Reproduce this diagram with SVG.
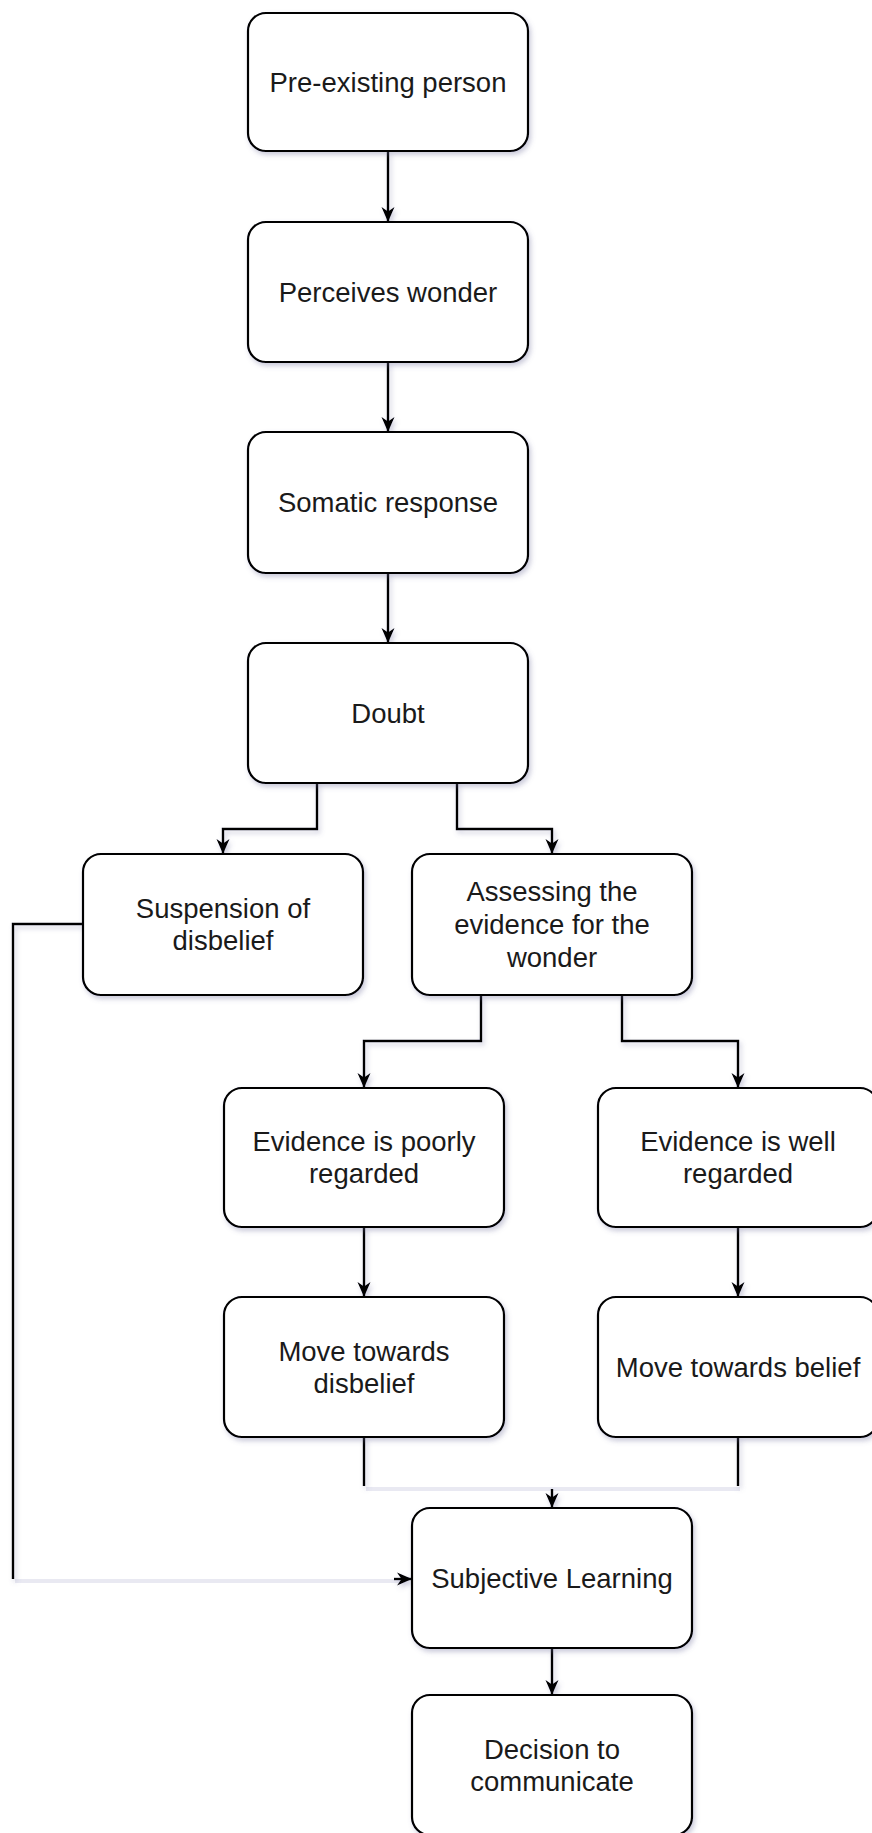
<svg xmlns="http://www.w3.org/2000/svg" width="872" height="1833" viewBox="0 0 872 1833">
<defs>
<filter id="sh" filterUnits="userSpaceOnUse" x="0" y="0" width="872" height="1833">
<feDropShadow dx="2" dy="3" stdDeviation="2.5" flood-color="#6b6b99" flood-opacity="0.35"/>
</filter>
<marker id="arr" viewBox="0 0 16 16" markerWidth="16" markerHeight="16" refX="15" refY="8" orient="auto" markerUnits="userSpaceOnUse">
<path d="M0,1.5 L15,8 L0,14.5 L4.5,8 Z" fill="#000"/>
</marker>
<style>
.box{fill:#fff;stroke:#000;stroke-width:2.2;filter:url(#sh)}
.t{font-family:"Liberation Sans",Arial,sans-serif;font-size:27.5px;fill:#1a1a1a;text-anchor:middle}
.c{fill:none;stroke:#000;stroke-width:2.4;filter:url(#sh)}
.f{fill:none;stroke:#e9e9f2;stroke-width:4}
</style>
</defs>
<g id="connectors">
<path class="c" d="M388,151 V222" marker-end="url(#arr)"/>
<path class="c" d="M388,362 V432" marker-end="url(#arr)"/>
<path class="c" d="M388,573 V643" marker-end="url(#arr)"/>
<path class="c" d="M317,783 V829 H223 V854" marker-end="url(#arr)"/>
<path class="c" d="M457,783 V829 H552 V854" marker-end="url(#arr)"/>
<path class="c" d="M481,995 V1041 H364 V1088" marker-end="url(#arr)"/>
<path class="c" d="M622,995 V1041 H738 V1088" marker-end="url(#arr)"/>
<path class="c" d="M364,1227 V1297" marker-end="url(#arr)"/>
<path class="c" d="M738,1227 V1297" marker-end="url(#arr)"/>
<path class="f" d="M366,1489 H740"/>
<path class="c" d="M364,1437 V1486"/>
<path class="c" d="M738,1437 V1486"/>
<path class="c" d="M552,1489 V1508" marker-end="url(#arr)"/>
<path class="f" d="M15,1581 H400"/>
<path class="c" d="M83,924 H13 V1579"/>
<path class="c" d="M394,1579 H412" marker-end="url(#arr)"/>
<path class="c" d="M552,1648 V1695" marker-end="url(#arr)"/>
</g>
<g id="n1"><rect class="box" x="248" y="13" width="280" height="138" rx="18"/><text class="t" x="388" y="92">Pre-existing person</text></g>
<g id="n2"><rect class="box" x="248" y="222" width="280" height="140" rx="18"/><text class="t" x="388" y="302">Perceives wonder</text></g>
<g id="n3"><rect class="box" x="248" y="432" width="280" height="141" rx="18"/><text class="t" x="388" y="512">Somatic response</text></g>
<g id="n4"><rect class="box" x="248" y="643" width="280" height="140" rx="18"/><text class="t" x="388" y="723">Doubt</text></g>
<g id="n5"><rect class="box" x="83" y="854" width="280" height="141" rx="18"/><text class="t" x="223" y="918">Suspension of</text><text class="t" x="223" y="950">disbelief</text></g>
<g id="n6"><rect class="box" x="412" y="854" width="280" height="141" rx="18"/><text class="t" x="552" y="901">Assessing the</text><text class="t" x="552" y="934">evidence for the</text><text class="t" x="552" y="967">wonder</text></g>
<g id="n7"><rect class="box" x="224" y="1088" width="280" height="139" rx="18"/><text class="t" x="364" y="1151">Evidence is poorly</text><text class="t" x="364" y="1183">regarded</text></g>
<g id="n8"><rect class="box" x="598" y="1088" width="280" height="139" rx="18"/><text class="t" x="738" y="1151">Evidence is well</text><text class="t" x="738" y="1183">regarded</text></g>
<g id="n9"><rect class="box" x="224" y="1297" width="280" height="140" rx="18"/><text class="t" x="364" y="1361">Move towards</text><text class="t" x="364" y="1393">disbelief</text></g>
<g id="n10"><rect class="box" x="598" y="1297" width="280" height="140" rx="18"/><text class="t" x="738" y="1377">Move towards belief</text></g>
<g id="n11"><rect class="box" x="412" y="1508" width="280" height="140" rx="18"/><text class="t" x="552" y="1588">Subjective Learning</text></g>
<g id="n12"><rect class="box" x="412" y="1695" width="280" height="140" rx="18"/><text class="t" x="552" y="1759">Decision to</text><text class="t" x="552" y="1791">communicate</text></g>
</svg>
